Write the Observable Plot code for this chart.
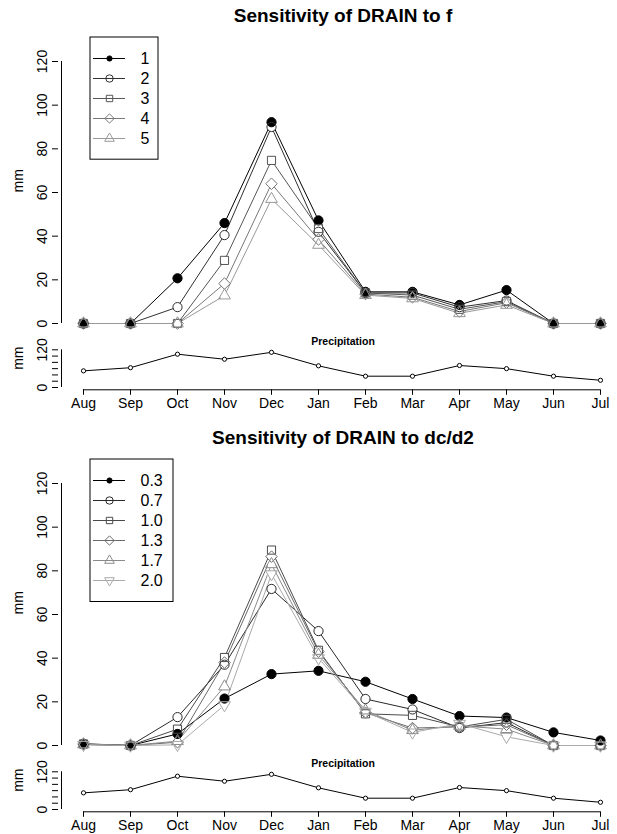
<!DOCTYPE html>
<html><head><meta charset="utf-8">
<script src="https://cdn.jsdelivr.net/npm/d3@7"></script>
<script src="https://cdn.jsdelivr.net/npm/@observablehq/plot@0.6"></script>
<style>
body{margin:0;background:#fff;}
#chart{position:relative;width:617px;height:834px;overflow:hidden;background:#fff;}
#chart svg{position:absolute;overflow:visible;}
</style></head><body><div id="chart"></div>
<script>
const FONT = '"Liberation Sans", Arial, Helvetica, sans-serif';
// ---- data ----
const months = ["Aug","Sep","Oct","Nov","Dec","Jan","Feb","Mar","Apr","May","Jun","Jul"];
const precip = [53, 63, 106, 90, 112, 69, 36, 36, 70, 60, 36, 23];
const yTicks = [0, 20, 40, 60, 80, 100, 120];
const precipTicks = [0, 20, 40, 60, 80, 100, 120];
const precipLabels = [0, 120];

const fNames = ["1", "2", "3", "4", "5"];
const f1 = [0, 0, 20.7, 46, 92.2, 47.2, 14.5, 14.5, 8.5, 15.3, 0, 0];
const f2 = [0, 0, 7.5, 40.5, 90, 42, 14, 14, 7.5, 10.5, 0, 0];
const f3 = [0, 0, 0, 28.9, 74.7, 43.5, 14, 13, 6.5, 10, 0, 0];
const f4 = [0, 0, 0, 18.3, 64, 38.5, 13.5, 12, 5.5, 9.5, 0, 0];
const f5 = [0, 0, 0, 12.8, 57, 36, 13, 11.5, 4.7, 8.5, 0, 0];
const fColors = ["#000000", "#303030", "#555555", "#777777", "#999999"];

const dcNames = ["0.3", "0.7", "1.0", "1.3", "1.7", "2.0"];
const dc03 = [0.5, 0, 5.3, 21.5, 32.7, 34.2, 29.2, 21.3, 13.5, 12.8, 6, 2.3];
const dc07 = [0.8, 0, 13, 37, 71.7, 52.4, 21.3, 16.5, 8, 10.5, 0, 0];
const dc10 = [0.7, 0, 7.5, 40.3, 89.5, 43.6, 14.5, 13.8, 8.5, 12, 0, 0];
const dc13 = [0.6, 0, 1.5, 38, 86.5, 43, 15, 8, 8.5, 9.5, 0, 0];
const dc17 = [0.5, 0, 2, 27, 83, 41.5, 16, 7, 9, 7.5, 0, 0];
const dc20 = [0.3, 0, 0.3, 18.5, 78.5, 40, 15.5, 6, 10, 4, 0, 0];
const dcColors = ["#000000", "#2a2a2a", "#4a4a4a", "#6a6a6a", "#8a8a8a", "#aaaaaa"];

// ---- symbols ----
const triangleDown = {draw(ctx, size) {
  const s = Math.sqrt(size) * 0.6824, t = s / 2, u = s * Math.sqrt(3) / 2;
  ctx.moveTo(0, s); ctx.lineTo(-u, -t); ctx.lineTo(u, -t); ctx.closePath();
}};
const symSpec = [
  {symbol: "circle", r: 4.6, filled: true, lr: 2.6},
  {symbol: "circle", r: 4.6, filled: false, lr: 3.7},
  {symbol: "square", r: 4.6, filled: false, lr: 3.6},
  {symbol: "diamond2", r: 5.2, filled: false, lr: 4.2},
  {symbol: "triangle2", r: 5.6, filled: false, lr: 4.6},
  {symbol: triangleDown, r: 5.6, filled: false, lr: 4.6}
];

const chart = document.getElementById("chart");
function place(el, left, top) { el.style.left = left + "px"; el.style.top = top + "px"; chart.appendChild(el); }

function panel(off, title, names, series, colors, legendW) {
  const data = [];
  names.forEach((n, i) => series[i].forEach((v, j) => data.push({month: months[j], value: v, series: n, k: i})));
  const color = {type: "ordinal", domain: names, range: colors};
  const xOpt = {type: "point", domain: months, range: [80, 602], padding: 0};
  const style = {background: "transparent", fontFamily: FONT, fontSize: "14px", color: "black", overflow: "visible"};

  const main = Plot.plot({
    width: 617, height: 335,
    marginLeft: 58, marginRight: 0, marginTop: 61, marginBottom: 12,
    style,
    x: {...xOpt, axis: null},
    y: {domain: [0, 120]},
    color,
    marks: [
      Plot.ruleX([months[0]], {x: d => d, y1: d3.min(yTicks), y2: d3.max(yTicks), dx: -22}),
      Plot.axisY(yTicks, {tickSize: 6, tickRotate: -90, tickPadding: 6, label: null}),
      Plot.text(["mm"], {text: d => d, frameAnchor: "left", rotate: -90, dx: -40, fontSize: 14}),
      Plot.text([title], {text: d => d, frameAnchor: "top", lineAnchor: "bottom", dy: -39.5, dx: 5, fontSize: 19, fontWeight: "bold"}),
      Plot.line(data, {x: "month", y: "value", z: "series", stroke: "series", strokeWidth: 1}),
      Plot.dot(data, {x: "month", y: "value", r: 4.2, fill: "white", stroke: null}),
      ...names.map((n, i) => Plot.dot(data.filter(d => d.k === i), {
        x: "month", y: "value", symbol: symSpec[i].symbol, r: symSpec[i].r, stroke: "series",
        fill: symSpec[i].filled ? "series" : "none", strokeWidth: 1
      }))
    ]
  });
  place(main, 0, off);

  const pdata = precip.map((v, j) => ({month: months[j], value: v}));
  const T = 332;
  const pr = Plot.plot({
    width: 617, height: 82,
    marginLeft: 58, marginRight: 0, marginTop: 17.3, marginBottom: 82 - 57.3,
    style,
    x: xOpt,
    y: {domain: [0, 120], range: [55, 17.3]},
    marks: [
      Plot.ruleX([months[0]], {x: d => d, y1: d3.min(precipTicks), y2: d3.max(precipTicks), dx: -22}),
      Plot.axisY(precipTicks, {tickSize: 6, tickRotate: -90, tickPadding: 6, label: null,
        tickFormat: d => precipLabels.includes(d) ? String(d) : ""}),
      Plot.ruleY([0], {x1: () => months[0], x2: () => months[months.length - 1], dy: 2.3}),
      Plot.axisX({anchor: "bottom", tickSize: 5.5, tickPadding: 3, label: null}),
      Plot.text(["mm"], {text: d => d, frameAnchor: "left", rotate: -90, dx: -40, fontSize: 14}),
      Plot.text(["Precipitation"], {text: d => d, frameAnchor: "top", lineAnchor: "bottom", dy: -4.5, dx: 5, fontSize: 10.5, fontWeight: "bold"}),
      Plot.line(pdata, {x: "month", y: "value", stroke: "black", strokeWidth: 1}),
      Plot.dot(pdata, {x: "month", y: "value", r: 2.1, fill: "white", stroke: "black", strokeWidth: 1})
    ]
  });
  place(pr, 0, off + T);

  // legend box
  const n = names.length, step = 20.3;
  const lh = 21 + (n - 1) * step + 21;
  const leg = Plot.plot({
    width: legendW, height: lh,
    marginLeft: 0.5, marginRight: 0.5, marginTop: 0.5, marginBottom: 0.5,
    style: {...style, background: "white"},
    x: {domain: [0, 1], range: [4, 36], axis: null},
    y: {type: "point", domain: names, range: [21, 21 + (n - 1) * step], padding: 0, axis: null},
    color,
    marks: [
      Plot.frame({stroke: "black", fill: "white"}),
      Plot.ruleY(names, {y: d => d, x1: 0, x2: 1, stroke: d => d, strokeWidth: 1}),
      ...names.map((nm, i) => Plot.dot([nm], {
        y: d => d, x: 0.5, symbol: symSpec[i].symbol, r: symSpec[i].lr, stroke: d => d,
        fill: symSpec[i].filled ? (d => d) : "none", strokeWidth: 1
      })),
      Plot.text(names, {y: d => d, x: 1, dx: 15, text: d => d, textAnchor: "start", fontSize: 16})
    ]
  });
  place(leg, 89, off + 36);
}

panel(0, "Sensitivity of DRAIN to f", fNames, [f1, f2, f3, f4, f5], fColors, 69);
panel(422, "Sensitivity of DRAIN to dc/d2", dcNames, [dc03, dc07, dc10, dc13, dc17, dc20], dcColors, 84);
</script></body></html>
